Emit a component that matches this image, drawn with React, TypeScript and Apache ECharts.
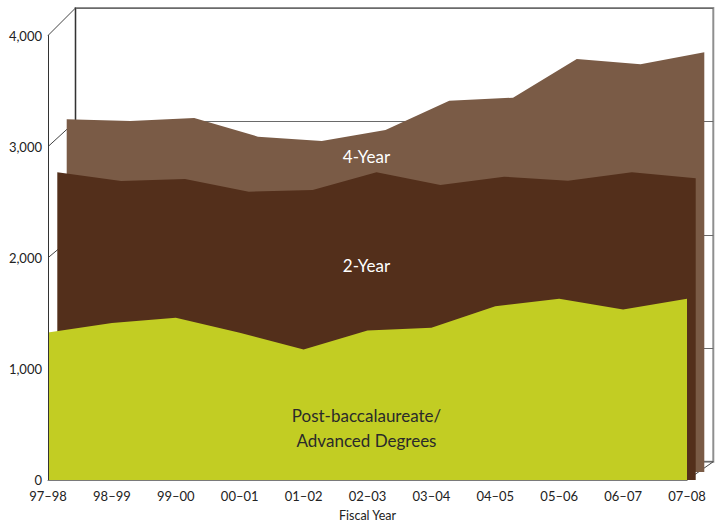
import React, { useEffect, useRef } from "react";
import * as echarts from "echarts";

const categories = ["97–98", "98–99", "99–00", "00–01", "01–02", "02–03", "03–04", "04–05", "05–06", "06–07", "07–08"];
const postBacc = [1327, 1413, 1460, 1325, 1174, 1345, 1371, 1563, 1631, 1534, 1631];
const twoYear = [2717, 2640, 2658, 2546, 2561, 2717, 2605, 2678, 2643, 2717, 2664];
const fourYear = [3114, 3099, 3126, 2961, 2923, 3020, 3279, 3305, 3647, 3600, 3706];
const yTicks = [0, 1000, 2000, 3000, 4000];

const FONT = "Lato, 'Open Sans', sans-serif";

export default function App() {
  const ref = useRef<HTMLDivElement>(null);
  useEffect(() => {
    if (!ref.current) return;
    const chart = echarts.init(ref.current, undefined, { renderer: "svg" });
    const yBase = { type: "value", min: 0, max: 4000, interval: 1000 };
    const hiddenX = (g: number) => ({ type: "category", gridIndex: g, data: categories, boundaryGap: false, show: false });
    const hiddenY = (g: number) => ({ ...yBase, gridIndex: g, show: false, splitLine: { show: false } });
    const areaSeries = (g: number, data: number[], color: string, z: number) => ({
      type: "line",
      xAxisIndex: g,
      yAxisIndex: g,
      data,
      symbol: "none",
      lineStyle: { width: 0, color },
      areaStyle: { color, opacity: 1 },
      z,
      silent: true,
    });
    chart.setOption({
      animation: false,
      backgroundColor: "#ffffff",
      grid: [
        { left: 75.5, right: 11.7, top: 8, bottom: 65.3, show: true, borderColor: "#8f8f8f", borderWidth: 2, backgroundColor: "transparent" },
        { left: 66.7, right: 20.7, top: 19, bottom: 55 },
        { left: 57.3, right: 29.3, top: 27, bottom: 47 },
        { left: 48, right: 38, top: 35.5, bottom: 38.5 },
      ],
      xAxis: [
        hiddenX(0),
        hiddenX(1),
        hiddenX(2),
        {
          type: "category",
          gridIndex: 3,
          data: categories,
          boundaryGap: false,
          z: 10,
          axisLine: { show: true, lineStyle: { color: "#7a7a7a", width: 1 } },
          axisTick: { show: false },
          axisLabel: { margin: 9, fontSize: 13, lineHeight: 13, color: "#222", fontFamily: FONT },
          name: "Fiscal Year",
          nameLocation: "middle",
          nameGap: 29,
          nameTextStyle: { fontSize: 12.5, color: "#222", fontFamily: FONT },
        },
      ],
      yAxis: [
        {
          ...yBase,
          gridIndex: 0,
          axisLabel: { show: false },
          axisTick: { show: false },
          axisLine: { show: true, lineStyle: { color: "#333", width: 1 } },
          splitLine: { show: true, lineStyle: { color: "#6a6a6a", width: 1 } },
        },
        hiddenY(1),
        hiddenY(2),
        {
          ...yBase,
          gridIndex: 3,
          z: 10,
          axisLine: { show: true, lineStyle: { color: "#333", width: 1 } },
          axisTick: { show: false },
          splitLine: { show: false },
          axisLabel: {
            margin: 6,
            fontSize: 13,
            lineHeight: 11,
            padding: [0, 0, 2, 0],
            color: "#222",
            fontFamily: FONT,
            formatter: (v: number) => v.toLocaleString("en-US"),
          },
        },
      ],
      series: [
        areaSeries(1, fourYear, "#7a5b46", 3),
        areaSeries(2, twoYear, "#532f1b", 4),
        areaSeries(3, postBacc, "#c2cd23", 5),
      ],
    });

    const lastIdx = categories.length - 1;
    const lines: any[] = [];
    yTicks.forEach((v) => {
      const a = chart.convertToPixel({ xAxisIndex: 3, yAxisIndex: 3 }, [0, v]) as number[];
      const b = chart.convertToPixel({ xAxisIndex: 0, yAxisIndex: 0 }, [0, v]) as number[];
      lines.push({
        type: "line",
        z: 1,
        shape: { x1: a[0], y1: a[1], x2: b[0], y2: b[1] },
        style: { stroke: "#444", lineWidth: 1 },
      });
    });
    {
      const a = chart.convertToPixel({ xAxisIndex: 3, yAxisIndex: 3 }, [lastIdx, 0]) as number[];
      const b = chart.convertToPixel({ xAxisIndex: 0, yAxisIndex: 0 }, [lastIdx, 0]) as number[];
      lines.push({
        type: "line",
        z: 1,
        shape: { x1: a[0], y1: a[1], x2: b[0], y2: b[1] },
        style: { stroke: "#444", lineWidth: 1 },
      });
    }
    const label = (text: string, x: number, y: number, fill: string) => ({
      type: "text",
      z: 100,
      x,
      y,
      style: { text, fill, font: `17px ${FONT}`, align: "center", verticalAlign: "middle" },
    });
    chart.setOption({
      graphic: [
        ...lines,
        label("4-Year", 366.5, 156, "#ffffff"),
        label("2-Year", 366.5, 265, "#ffffff"),
        label("Post-baccalaureate/", 366.5, 415, "#2a2a2a"),
        label("Advanced Degrees", 366.5, 440, "#2a2a2a"),
      ],
    });
    return () => chart.dispose();
  }, []);
  return <div ref={ref} style={{ position: "fixed", left: 0, top: 0, width: 725, height: 527 }} />;
}
